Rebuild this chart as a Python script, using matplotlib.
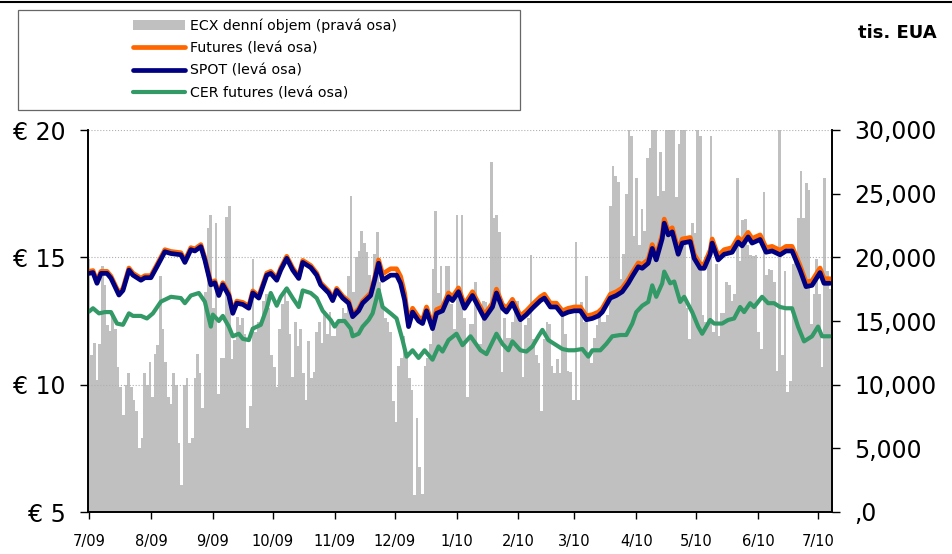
import matplotlib
matplotlib.use("Agg")
import matplotlib.pyplot as plt
from matplotlib.patches import Rectangle
from matplotlib.lines import Line2D
from matplotlib.ticker import FixedLocator, FuncFormatter
import numpy as np
import pandas as pd

plt.rcParams['font.family'] = ['DejaVu Sans']

start = pd.Timestamp("2009-07-01")
months = pd.date_range("2009-07-01", "2010-07-01", freq="MS")
month_labels = [f"{d.month}/{d:%y}" for d in months]

# ECX daily volume, millions EUA (right axis is in tis. EUA)
ecx_volume = [
    19.9, 12.3, 13.3, 10.4, 13.2, 19.3, 17.8, 14.7, 14.2, 15.6,
    14.4, 11.4, 9.8, 7.6, 10.0, 10.9, 9.8, 8.8, 7.9, 5.0,
    5.8, 10.9, 10.0, 11.8, 9.0, 12.4, 13.1, 18.5, 14.4, 11.8,
    9.0, 8.5, 10.9, 10.0, 5.4, 2.1, 10.0, 10.5, 5.4, 5.8,
    10.5, 12.4, 10.9, 8.2, 17.3, 22.3, 23.3,
    16.0, 22.7, 9.3, 12.1, 12.1, 23.2, 24.0, 12.0, 13.5, 15.3,
    14.7, 15.2, 14.0, 6.6, 8.3, 19.9, 14.1, 14.9, 14.9, 16.6,
    17.1, 16.0, 12.3, 11.4, 9.8, 14.4, 16.3, 17.6, 16.6, 14.0,
    10.6, 14.9, 13.0, 14.4, 10.9, 8.8, 13.4, 10.5, 11.0, 14.1,
    14.9, 13.3, 15.8, 14.0, 15.7, 13.8,
    13.8, 14.7, 14.9, 16.0, 15.6, 18.5, 24.8, 17.3, 20.0, 20.5,
    22.1, 21.1, 20.4, 18.6, 17.3, 20.3, 22.0, 18.1, 16.0, 15.2,
    14.9, 14.1, 8.7, 7.1, 11.5, 12.1, 13.8, 12.6, 10.5, 9.6,
    1.3, 7.4, 3.5, 1.4, 11.5, 12.1, 13.2, 19.1, 23.6, 17.2,
    19.3, 15.8, 19.3, 19.3, 16.3, 14.4, 23.3, 17.6,
    23.3, 15.2, 9.0, 14.8, 14.8, 18.1, 13.2, 13.2, 16.6, 16.5,
    15.7, 27.5, 23.1, 23.3, 22.0, 11.0, 15.2, 13.7, 13.7, 14.9,
    16.2, 16.6, 15.5, 10.6, 14.7, 15.2, 20.2, 13.6, 12.3, 11.7,
    7.9, 13.6, 14.9, 14.8, 11.5, 10.9, 12.0, 10.9, 16.0, 14.0,
    11.1, 11.0, 8.8, 21.2, 8.8, 16.5, 14.9,
    18.5, 12.6, 11.7, 13.7, 14.7, 15.6, 14.9, 14.9, 15.5, 24.0,
    27.2, 26.4, 25.9, 18.3, 20.3, 25.0, 32.0, 29.5, 21.7, 26.2,
    21.0, 23.8, 22.1, 27.8, 28.6, 32.0, 32.0, 24.8, 28.3, 25.2,
    32.0, 32.0, 32.0, 32.0, 24.7, 28.9, 32.0, 30.5, 16.0, 13.6,
    22.7, 21.9, 32.0, 29.5, 15.5, 14.9, 20.4,
    29.5, 14.1, 19.5, 13.8, 15.6, 15.6, 18.1, 17.8, 16.6, 17.1,
    26.2, 19.7, 22.9, 23.0, 21.0, 20.2, 20.1, 20.2, 14.1, 12.8,
    25.1, 18.6, 19.1, 19.0, 18.1, 11.1, 32.0, 12.3, 18.9, 9.4,
    10.3, 19.5, 20.3, 23.1, 26.8, 23.1, 25.8, 25.3, 14.8, 17.1,
    19.9, 17.1, 11.4, 26.2, 18.9, 17.5,
]

# days since 1 July 2009
spot_days = [
    0, 2, 4, 6, 9, 11, 15, 17, 20, 22,
    26, 28, 31, 34, 38, 41, 46, 48, 51, 53,
    56, 58, 61, 63, 65, 67, 70, 72, 74, 77,
    80, 82, 85, 89, 91, 94, 96, 99, 102, 105,
    107, 111, 114, 116, 120, 122, 124, 127, 130, 132,
    135, 137, 141, 143, 145, 147, 151, 154, 156, 158,
    160, 162, 165, 167, 169, 172, 174, 177, 180, 182,
    185, 188, 192, 195, 198, 202, 204, 207, 209, 212,
    216, 219, 222, 226, 228, 231, 234, 237, 240, 243,
    246, 249, 252, 255, 257, 261, 264, 267, 270, 272,
    275, 277, 280, 282, 284, 287, 288, 290, 292, 295,
    297, 301, 303, 306, 308, 311, 312, 315, 318, 322,
    325, 327, 330, 332, 336, 339, 342, 346, 349, 352,
    356, 359, 362, 366, 368, 371,
]
spot = [
    14.37, 14.40, 13.98, 14.37, 14.37, 14.18, 13.52, 13.70, 14.50, 14.30,
    14.10, 14.20, 14.20, 14.63, 15.22, 15.15, 15.10, 14.80, 15.30, 15.25,
    15.42, 14.90, 13.92, 14.00, 13.50, 13.92, 13.50, 12.80, 13.20, 13.15,
    13.00, 13.60, 13.40, 14.30, 14.37, 14.10, 14.50, 14.96, 14.50, 14.17,
    14.80, 14.60, 14.30, 13.92, 13.60, 13.30, 13.70, 13.40, 13.20, 12.67,
    12.90, 13.20, 13.50, 14.10, 14.77, 14.10, 14.30, 14.30, 13.98, 13.33,
    12.28, 12.85, 12.50, 12.40, 12.90, 12.20, 12.80, 12.90, 13.45, 13.30,
    13.65, 13.00, 13.50, 13.05, 12.60, 13.05, 13.60, 13.00, 12.85, 13.20,
    12.55, 12.75, 13.00, 13.30, 13.40, 13.05, 13.05, 12.75, 12.85, 12.90,
    12.90, 12.55, 12.60, 12.70, 12.85, 13.40, 13.50, 13.65, 13.98, 14.25,
    14.63, 14.57, 14.77, 15.35, 14.90, 15.74, 16.34, 15.88, 16.00, 15.12,
    15.56, 15.62, 14.96, 14.57, 14.57, 15.12, 15.56, 14.90, 15.12, 15.20,
    15.60, 15.45, 15.80, 15.56, 15.70, 15.20, 15.25, 15.10, 15.25, 15.25,
    14.50, 13.85, 13.90, 14.40, 13.98, 13.98,
]
futures = [
    14.45, 14.48, 14.06, 14.45, 14.45, 14.26, 13.60, 13.78, 14.58, 14.38,
    14.18, 14.28, 14.28, 14.71, 15.30, 15.23, 15.18, 14.88, 15.38, 15.33,
    15.50, 14.98, 14.00, 14.08, 13.58, 14.00, 13.58, 12.88, 13.28, 13.23,
    13.08, 13.68, 13.48, 14.38, 14.45, 14.18, 14.58, 15.04, 14.58, 14.25,
    14.88, 14.68, 14.38, 14.00, 13.68, 13.38, 13.78, 13.48, 13.28, 12.75,
    12.98, 13.28, 13.60, 14.20, 14.90, 14.35, 14.55, 14.55, 14.25, 13.60,
    12.42, 13.00, 12.65, 12.55, 13.05, 12.35, 12.95, 13.05, 13.60, 13.45,
    13.80, 13.15, 13.65, 13.20, 12.75, 13.20, 13.75, 13.15, 13.00, 13.35,
    12.70, 12.90, 13.15, 13.45, 13.55, 13.20, 13.20, 12.90, 13.00, 13.05,
    13.05, 12.70, 12.75, 12.85, 13.00, 13.55, 13.65, 13.80, 14.13, 14.40,
    14.78, 14.72, 14.92, 15.50, 15.05, 15.90, 16.50, 16.04, 16.16, 15.28,
    15.72, 15.78, 15.12, 14.73, 14.73, 15.28, 15.72, 15.06, 15.30, 15.38,
    15.78, 15.63, 15.98, 15.74, 15.88, 15.38, 15.43, 15.28, 15.43, 15.43,
    14.68, 14.03, 14.08, 14.58, 14.16, 14.16,
]
cer_days = [
    0, 2, 5, 8, 11, 14, 17, 20, 22, 26,
    29, 32, 36, 41, 46, 48, 51, 55, 58, 61,
    62, 65, 67, 70, 72, 75, 77, 80, 82, 86,
    89, 91, 94, 96, 99, 102, 105, 107, 111, 114,
    117, 121, 123, 125, 128, 131, 132, 135, 137, 140,
    142, 145, 147, 151, 154, 157, 159, 162, 165, 168,
    172, 175, 177, 180, 184, 187, 191, 196, 199, 204,
    207, 210, 212, 216, 219, 222, 225, 227, 230, 233,
    237, 240, 243, 247, 250, 252, 256, 259, 262, 266,
    269, 272, 274, 277, 280, 282, 284, 287, 288, 291,
    293, 296, 298, 302, 305, 307, 311, 313, 317, 320,
    323, 326, 328, 331, 333, 337, 340, 343, 346, 349,
    352, 355, 358, 362, 365, 367, 371,
]
cer = [
    12.87, 13.00, 12.80, 12.85, 12.85, 12.40, 12.35, 12.80, 12.70, 12.70,
    12.60, 12.80, 13.26, 13.45, 13.40, 13.20, 13.50, 13.60, 13.26, 12.28,
    12.75, 12.50, 12.70, 12.28, 11.90, 12.00, 11.80, 11.75, 12.20, 12.35,
    13.00, 13.60, 13.10, 13.45, 13.78, 13.40, 13.05, 13.70, 13.60, 13.40,
    12.90, 12.54, 12.28, 12.50, 12.50, 12.20, 11.90, 12.00, 12.28, 12.54,
    12.80, 13.72, 13.05, 12.80, 12.60, 11.75, 11.10, 11.35, 11.05, 11.35,
    10.98, 11.50, 11.30, 11.75, 12.00, 11.55, 11.90, 11.35, 11.20, 12.00,
    11.60, 11.35, 11.70, 11.35, 11.30, 11.50, 11.90, 12.15, 11.75, 11.60,
    11.40, 11.35, 11.35, 11.40, 11.10, 11.35, 11.35, 11.60, 11.90, 11.95,
    11.95, 12.40, 12.85, 13.10, 13.25, 13.90, 13.45, 13.98, 14.44, 13.98,
    14.05, 13.25, 13.45, 12.85, 12.28, 12.00, 12.54, 12.40, 12.40, 12.54,
    12.60, 13.05, 12.85, 13.20, 13.05, 13.45, 13.20, 13.20, 13.05, 13.00,
    13.00, 12.28, 11.70, 11.90, 12.28, 11.90, 11.90,
]

month_days = [(d - start).days for d in months]

fig = plt.figure(figsize=(9.53, 5.54), dpi=100)
ax = fig.add_axes([88 / 953, 1 - 512 / 554, 744 / 953, 382 / 554])
ax2 = ax.twinx()
ax.set_zorder(ax2.get_zorder() + 1)
ax.patch.set_visible(False)

n = len(ecx_volume)
bar_x = np.linspace(0, 371, n)
bars = ax2.bar(bar_x, ecx_volume, width=371 / (n - 1), color="#c0c0c0",
               linewidth=0, label="ECX denní objem (pravá osa)")
ax2.set_ylim(0, 30)
ax2.yaxis.set_major_locator(FixedLocator([0, 5, 10, 15, 20, 25, 30]))
ax2.yaxis.set_major_formatter(FuncFormatter(lambda v, p: f"{v * 1000:,.0f}" if v else ",0"))

l_fut, = ax.plot(spot_days, futures, color="#ff6600", lw=3.4, solid_capstyle="round",
                 label="Futures (levá osa)")
l_spot, = ax.plot(spot_days, spot, color="#000080", lw=3.4, solid_capstyle="round",
                  label="SPOT (levá osa)")
l_cer, = ax.plot(cer_days, cer, color="#339966", lw=3.0, solid_capstyle="round",
                 label="CER futures (levá osa)")

ax.set_ylim(5, 20)
ax.set_yticks([5, 10, 15, 20])
ax.set_yticklabels(["€ 5", "€ 10", "€ 15", "€ 20"])
ax.set_xlim(-0.5, 372)
ax.set_xticks(month_days)
ax.set_xticklabels(month_labels, family=['DejaVu Sans Condensed', 'Liberation Sans Narrow', 'DejaVu Sans'])
ax.yaxis.grid(True, linestyle=":", color="#b0b0b0", lw=0.8)

for a in (ax, ax2):
    a.spines["top"].set_visible(False)
    for s in a.spines.values():
        s.set_linewidth(1.2)
ax.tick_params(axis="y", labelsize=17, length=6, width=1, pad=10)
ax2.tick_params(axis="y", labelsize=17, length=6, width=1, pad=10)
ax.tick_params(axis="x", labelsize=10.5, length=5, width=1, pad=11)

# legend with its own box
fig.add_artist(Rectangle((18 / 953, 1 - 110 / 554), 502 / 953, 100 / 554,
                         transform=fig.transFigure, fill=False,
                         edgecolor="#666666", lw=0.9))
fig.legend([bars, l_fut, l_spot, l_cer],
           [bars.get_label(), l_fut.get_label(), l_spot.get_label(), l_cer.get_label()],
           loc="center", bbox_to_anchor=(265 / 953, 1 - 59.5 / 554),
           frameon=False, fontsize=10.2, handlelength=3.7, handleheight=0.75,
           labelspacing=0.6, handletextpad=0.35)

fig.text(937 / 953, 1 - 33 / 554, "tis. EUA", ha="right", va="center",
         fontsize=13, fontweight="bold")
fig.add_artist(Line2D([0, 1], [1 - 2 / 554, 1 - 2 / 554], transform=fig.transFigure,
                      color="black", lw=1.5))

fig.savefig("out.png", dpi=100)
